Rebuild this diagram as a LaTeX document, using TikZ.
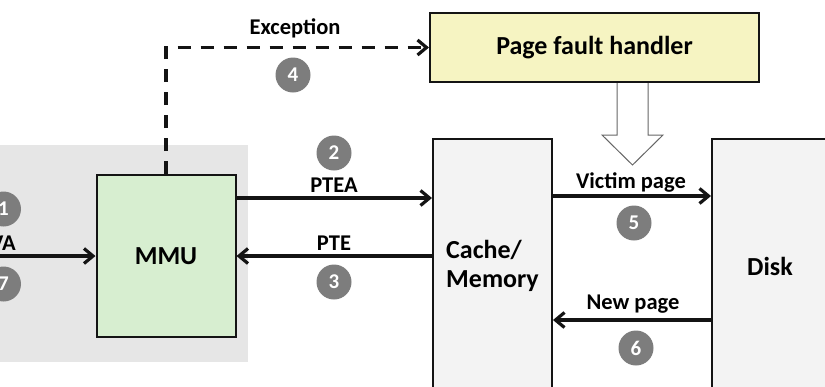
\documentclass[tikz,border=0pt]{standalone}
\usepackage{fontspec}
\setmainfont{Carlito}
\usepackage{tikz}
\usetikzlibrary{arrows.meta,positioning,calc}
\definecolor{ink}{RGB}{20,20,20}
\definecolor{mmugrn}{RGB}{215,238,208}
\definecolor{pfhyel}{RGB}{246,244,194}
\definecolor{tlbbg}{RGB}{230,230,230}
\definecolor{memgry}{RGB}{243,243,243}
\definecolor{bdg}{RGB}{125,125,125}
\tikzset{
  unit/.style={draw=ink,line width=2pt,font=\fontsize{26}{29}\selectfont\bfseries,inner sep=0pt},
  lbl/.style={font=\fontsize{22.5}{25}\selectfont\bfseries,inner sep=0pt},
  badge/.style={circle,fill=bdg,minimum size=35pt,inner sep=0pt,
    font=\fontsize{21}{21}\selectfont\bfseries,text=white},
  arr/.style={-{Straight Barb[length=9pt,width=15pt]},line width=3.2pt,ink},
  excarr/.style={arr,dash pattern=on 13pt off 10pt},
  hollow/.style={draw=ink!65,line width=1pt,fill=white},
}
\begin{document}
\begin{tikzpicture}[x=1pt,y=-1pt]
\path[use as bounding box,clip] (0,0) rectangle (825,386);
% address translation region
\fill[tlbbg] (-10,145) rectangle (248,362);
% units
\node[unit,fill=mmugrn,minimum width=139pt,minimum height=162pt] (mmu) at (166,256) {MMU};
\node[unit,fill=pfhyel,minimum width=329pt,minimum height=69pt] (pfh) at (594.5,47.5) {Page fault handler};
\node[unit,fill=memgry,minimum width=119pt,minimum height=254pt,align=left] (mem) at (492.5,266) {Cache/\\Memory};
\node[unit,fill=memgry,minimum width=116pt,minimum height=254pt] (disk) at (770,266) {Disk};
% virtual address in
\coordinate (va) at (-10,256);
\draw[arr] (va) -- (mmu.west);
\node[lbl] (valbl) at (3,243) {VA};
\node[badge] (b1) at (3.5,209) {1};
\node[badge] (b7) at (3.5,284) {7};
% PTEA / PTE
\draw[arr] ([yshift=58pt]mmu.east) -- ([yshift=58pt]mmu.east -| mem.west);
\node[lbl] (ptea) at (334,185) {PTEA};
\node[badge] (b2) at (334,153) {2};
\draw[arr] (mmu.east -| mem.west) -- (mmu.east);
\node[lbl] (pte) at (334,243) {PTE};
\node[badge] (b3) at (334,282) {3};
% exception
\draw[excarr] (mmu.north) |- (pfh.west);
\node[lbl] (exc) at (295,28) {Exception};
\node[badge] (b4) at (293,75) {4};
% handler acts on memory
\draw[hollow] ([xshift=22.5pt]pfh.south) -- ++(0,52) -- ++(-15,0) -- ++(30.5,30)
  -- ++(30.5,-30) -- ++(-15,0) -- ++(0,-52);
% paging to and from disk
\draw[arr] ([yshift=70pt]mem.east) -- ([yshift=70pt]mem.east -| disk.west);
\node[lbl] (victim) at (631,182) {Victim page};
\node[badge] (b5) at (634,223) {5};
\draw[arr] ([yshift=-54pt]mem.east -| disk.west) -- ([yshift=-54pt]mem.east);
\node[lbl] (newpg) at (633,304) {New page};
\node[badge] (b6) at (636,348) {6};
\end{tikzpicture}
\end{document}
